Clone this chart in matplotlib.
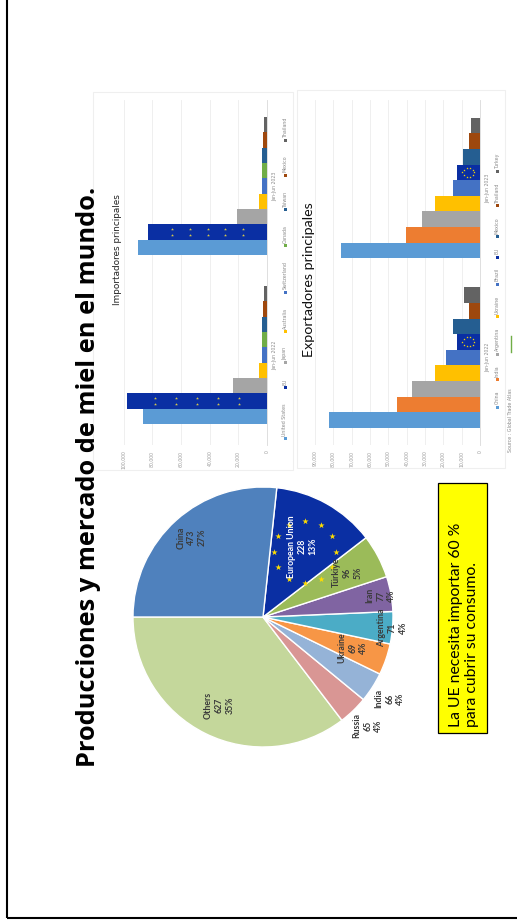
import numpy as np
import matplotlib
matplotlib.use("Agg")
import matplotlib.pyplot as plt
from matplotlib.patches import Rectangle

# ---------------- data ----------------
# World honey production (thousand tonnes)
pie_names = ["Others", "Russia", "India", "Ukraine", "Argentina", "Iran",
             "Türkiye", "European Union", "China"]
pie_values = [627, 65, 66, 69, 71, 77, 96, 228, 473]
pie_colors = ["#c4d79b", "#d99694", "#95b3d7", "#f79646", "#4bacc6",
              "#8064a2", "#9bbb59", "#0a2fa3", "#4f81bd"]
pie_label_radius = [0.76, 1.16, 1.16, 0.73, 1.0, 0.92, 0.73, 0.62, 0.82]

periods = ["Jan-Jun 2022", "Jan-Jun 2023"]

# Main importers (tonnes)
imp_names = ["United States", "EU", "Japan", "Australia", "Switzerland",
             "Canada", "Taiwan", "Mexico", "Thailand"]
imp_2022 = [86400, 97600, 23700, 5600, 3500, 3500, 3500, 2800, 2000]
imp_2023 = [90000, 83000, 21000, 5600, 3500, 3500, 3500, 2800, 2000]
imp_colors = ["#5b9bd5", "#0a2fa3", "#a5a5a5", "#ffc000", "#4472c4",
              "#70ad47", "#255e91", "#9e480e", "#636363"]
imp_ticks = [0, 20000, 40000, 60000, 80000, 100000]

# Main exporters (tonnes)
exp_names = ["China", "India", "Argentina", "Ukraine", "Brazil", "EU",
             "Mexico", "Thailand", "Turkey"]
exp_2022 = [82500, 45400, 37200, 24600, 18600, 12600, 14800, 6000, 8700]
exp_2023 = [76000, 40400, 31700, 24600, 14800, 12600, 9300, 6000, 4900]
exp_colors = ["#5b9bd5", "#ed7d31", "#a5a5a5", "#ffc000", "#4472c4",
              "#0a2fa3", "#255e91", "#9e480e", "#636363"]
exp_ticks = list(range(0, 90001, 10000))

title = "Producciones y mercado de miel en el mundo."
note = "La UE necesita importar 60 %\npara cubrir su consumo."

# ---------------- figure ----------------
W, H = 517, 923
fig = plt.figure(figsize=(W / 100, H / 100), dpi=100)
fig.patch.set_facecolor("white")

# pixel-space overlay (the slide is laid out sideways)
ov = fig.add_axes([0, 0, 1, 1], zorder=0)
ov.set_xlim(0, W)
ov.set_ylim(H, 0)
ov.axis("off")


def px_axes(x0, y0, x1, y1, **kw):
    return fig.add_axes([x0 / W, 1 - y1 / H, (x1 - x0) / W, (y1 - y0) / H], **kw)


# slide border (left and bottom)
ov.plot([6.5, 6.5], [0, 917.5], color="black", lw=1.5, solid_capstyle="butt")
ov.plot([6.5, W], [917.5, 917.5], color="black", lw=1.5, solid_capstyle="butt")

# title
ov.text(89, 477, title, rotation=90, ha="center", va="center",
        fontsize=18.3, fontweight="bold", family=["Open Sans", "DejaVu Sans"],
        color="black")

# chart panels
for (x0, y0, x1, y1) in [(93, 92, 293, 470), (297, 90, 505, 468)]:
    ov.add_patch(Rectangle((x0, y0), x1 - x0, y1 - y0, fill=False,
                           ec="#efefef", lw=0.8))

ov.text(118, 250, "Importadores principales", rotation=90, ha="center",
        va="center", fontsize=6.4, family=["Liberation Sans Narrow", "DejaVu Sans"],
        color="#222222")
ov.text(309, 280, "Exportadores principales", rotation=90, ha="center",
        va="center", fontsize=10.3, family=["Lato", "DejaVu Sans"], color="#111111")

# ---------------- pie ----------------
cx, cy, r = 263, 617, 130
axp = px_axes(cx - r, cy - r, cx + r, cy + r, zorder=2)
wedges, _ = axp.pie(pie_values, colors=pie_colors, startangle=180,
                    counterclock=True, radius=1,
                    wedgeprops=dict(edgecolor="white", linewidth=1.0))
axp.set_xlim(-1, 1)
axp.set_ylim(-1, 1)
axp.axis("off")

total = sum(pie_values)
for w, name, val, rr in zip(wedges, pie_names, pie_values, pie_label_radius):
    mid = np.deg2rad((w.theta1 + w.theta2) / 2)
    pct = round(val / total * 100)
    col = "white" if name == "European Union" else "#3a3a3a"
    if name == "European Union":
        # ring of yellow stars behind the label
        sx, sy = rr * np.cos(mid) + 0.02, rr * np.sin(mid) - 0.04
        ang = np.linspace(0, 2 * np.pi, 12, endpoint=False)
        axp.scatter(sx + 0.24 * np.cos(ang), sy + 0.24 * np.sin(ang),
                    marker="*", s=22, color="#ffdd00", zorder=3, lw=0)
    axp.text(rr * np.cos(mid), rr * np.sin(mid), f"{name}\n{val}\n{pct}%",
             rotation=90, ha="center", va="center", fontsize=6.3,
             fontweight="bold", color=col, linespacing=1.25,
             family=["Lato", "DejaVu Sans"], zorder=4, clip_on=False)

# yellow note box
ov.add_patch(Rectangle((438, 483), 49, 250, fc="#ffff00", ec="black", lw=0.9,
                       zorder=1))
ov.text(464, 727, note, rotation=90, ha="center", va="bottom", fontsize=11.3,
        family=["Lato", "DejaVu Sans"], color="black", linespacing=1.1,
        multialignment="left", zorder=2)


# ---------------- bar charts ----------------
def bar_chart(x_left, x_base, y_top, y_bot, c22, c23, bw, vmax, ticks,
              series22, series23, colors):
    ax = px_axes(x_left, y_top, x_base, y_bot, zorder=2)
    ax.set_facecolor("none")
    n = len(colors)
    offs = (np.arange(n) - (n - 1) / 2) * bw
    g = np.array([0.0, 1.0])
    for k in range(n):
        vals = [series22[k], series23[k]]
        ax.barh(g + offs[k], vals, height=bw, color=colors[k], zorder=3)
    ax.set_xlim(vmax, 0)
    lo = (c22 - y_bot) / (c22 - c23)
    hi = (c22 - y_top) / (c22 - c23)
    ax.set_ylim(lo, hi)
    ax.set_xticks(ticks)
    ax.set_xticklabels([f"{t:,}" for t in ticks])
    ax.tick_params(axis="x", length=0, labelrotation=90, labelsize=3.3,
                   labelcolor="#9a9a9a", pad=4)
    ax.yaxis.tick_right()
    ax.set_yticks(g)
    ax.set_yticklabels(periods)
    ax.tick_params(axis="y", length=0, labelrotation=90, labelsize=3.3,
                   labelcolor="#8a8a8a", pad=4)
    for lab in ax.get_yticklabels():
        lab.set_va("center")
    ax.grid(axis="x", color="#ececec", lw=0.6, zorder=0)
    for s in ["top", "left", "bottom"]:
        ax.spines[s].set_visible(False)
    ax.spines["right"].set_color("#d9d9d9")
    ax.spines["right"].set_linewidth(0.6)
    return ax, offs


def eu_stars(ax, y, val, bw, ring=False, px_per_unit=1.0):
    if ring:
        ang = np.linspace(0, 2 * np.pi, 10, endpoint=False)
        rx = 6 / px_per_unit
        ax.scatter(val * 0.5 + rx * np.cos(ang), y + 0.3 * bw * np.sin(ang),
                   marker="*", s=3, color="#ffdd00", lw=0, zorder=4)
    else:
        f = np.array([0.2, 0.35, 0.5, 0.65, 0.8])
        for dy in (-0.2, 0.2):
            ax.scatter(val * f, np.full(5, y + dy * bw), marker="*", s=5,
                       color="#d8c94a", lw=0, zorder=4)


# importers: baseline at x=267, 20,000 t per 28.7 px
axi, offi = bar_chart(95, 267, 100, 445, 355, 186, 15.3 / 169, 120000,
                      imp_ticks, imp_2022, imp_2023, imp_colors)
k_eu = imp_names.index("EU")
for gi, ser in enumerate([imp_2022, imp_2023]):
    eu_stars(axi, gi + offi[k_eu], ser[k_eu], 15.3 / 169)

# exporters: baseline at x=480, 10,000 t per 18.3 px
axe, offe = bar_chart(315, 480, 100, 445, 357.5, 188, 15.6 / 169.5, 90000,
                      exp_ticks, exp_2022, exp_2023, exp_colors)
k_eu = exp_names.index("EU")
for gi, ser in enumerate([exp_2022, exp_2023]):
    eu_stars(axe, gi + offe[k_eu], ser[k_eu], 15.6 / 169.5, ring=True,
             px_per_unit=18.3 / 10000)


# legends laid out along the rotated category axis
renderer = fig.canvas.get_renderer()


def legend(x, y_start, y_end, names, colors, fs=3.4, sq=3.0):
    texts = []
    for nm in names:
        t = ov.text(x, 0, nm, rotation=90, ha="center", va="bottom",
                    fontsize=fs, color="#8a8a8a")
        texts.append(t)
    lengths = [t.get_window_extent(renderer).height for t in texts]
    used = sum(lengths) + len(names) * (sq + 1.5)
    gap = (y_start - y_end - used) / (len(names) - 1)
    y = y_start
    for t, L, c in zip(texts, lengths, colors):
        ov.add_patch(Rectangle((x - sq / 2, y - sq), sq, sq, fc=c, ec="none"))
        y -= sq + 1.5
        t.set_position((x, y))
        y -= L + gap


legend(285, 440, 117, imp_names, imp_colors)
legend(497, 409, 153, exp_names, exp_colors)

ov.text(510, 452, "Source : Global Trade Atlas", rotation=90, ha="center",
        va="bottom", fontsize=3.4, color="#8a8a8a")
ov.plot([511, 511], [336, 352], color="#70ad47", lw=1.0)

fig.savefig("out.png", dpi=100, facecolor="white")
